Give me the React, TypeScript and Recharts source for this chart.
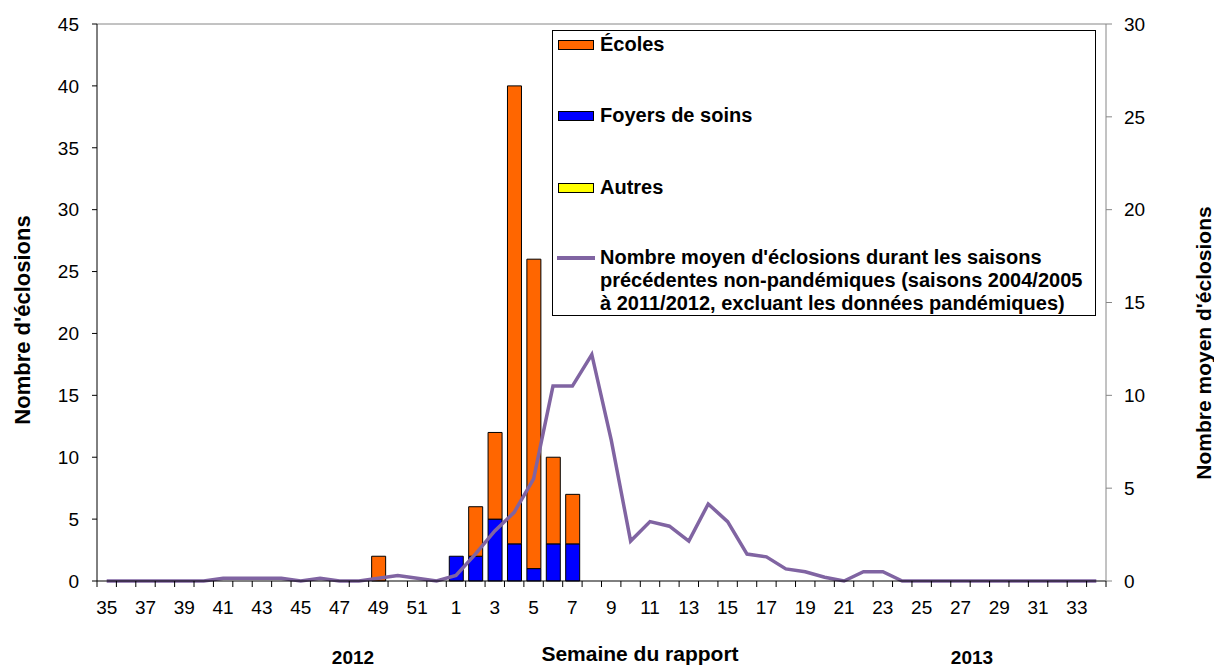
import { ComposedChart, Bar, Line, XAxis, YAxis, ReferenceLine } from 'recharts';

const FONT = 'Arial, "Liberation Sans", sans-serif';

// Semaine du rapport (2012 puis 2013)
const weeks = [
  '35', '36', '37', '38', '39', '40', '41', '42', '43', '44', '45', '46', '47', '48', '49', '50', '51', '52',
  '1', '2', '3', '4', '5', '6', '7', '8', '9', '10', '11', '12', '13', '14', '15', '16', '17',
  '18', '19', '20', '21', '22', '23', '24', '25', '26', '27', '28', '29', '30', '31', '32', '33', '34',
];

const ecoles = [
  0, 0, 0, 0, 0, 0, 0, 0, 0, 0, 0, 0, 0, 0, 2, 0, 0, 0,
  0, 4, 7, 37, 25, 7, 4, 0, 0, 0, 0, 0, 0, 0, 0, 0, 0,
  0, 0, 0, 0, 0, 0, 0, 0, 0, 0, 0, 0, 0, 0, 0, 0, 0,
];

const foyers = [
  0, 0, 0, 0, 0, 0, 0, 0, 0, 0, 0, 0, 0, 0, 0, 0, 0, 0,
  2, 2, 5, 3, 1, 3, 3, 0, 0, 0, 0, 0, 0, 0, 0, 0, 0,
  0, 0, 0, 0, 0, 0, 0, 0, 0, 0, 0, 0, 0, 0, 0, 0, 0,
];

const autres = [
  0, 0, 0, 0, 0, 0, 0, 0, 0, 0, 0, 0, 0, 0, 0, 0, 0, 0,
  0, 0, 0, 0, 0, 0, 0, 0, 0, 0, 0, 0, 0, 0, 0, 0, 0,
  0, 0, 0, 0, 0, 0, 0, 0, 0, 0, 0, 0, 0, 0, 0, 0, 0,
];

// moyenne des saisons non-pandémiques (axe de droite)
const moyenne = [
  0, 0, 0, 0, 0, 0, 0.15, 0.15, 0.15, 0.15, 0, 0.15, 0, 0, 0.15, 0.3, 0.15, 0,
  0.3, 1.45, 2.7, 3.7, 5.5, 10.5, 10.5, 12.2, 7.6, 2.15, 3.2, 2.95, 2.15, 4.15, 3.2, 1.45, 1.3,
  0.65, 0.5, 0.2, 0, 0.5, 0.5, 0, 0, 0, 0, 0, 0, 0, 0, 0, 0, 0,
];

const leftTicks = [0, 5, 10, 15, 20, 25, 30, 35, 40, 45];
const rightTicks = [0, 5, 10, 15, 20, 25, 30];

const data = weeks.map((w, i) => ({
  week: w,
  ecoles: ecoles[i],
  foyers: foyers[i],
  autres: autres[i],
  moyenne: moyenne[i],
}));

const W = 1214;
const H = 669;
const LEFT_W = 97;
const RIGHT_W = 108;
const BAND = (W - LEFT_W - RIGHT_W) / weeks.length;

const WeekTick = (props: any) => {
  const { x, y, payload } = props;
  const i = payload.index;
  const axisY = y - 8;
  return (
    <g>
      <line x1={x - BAND / 2} x2={x - BAND / 2} y1={axisY} y2={axisY + 6} stroke="#000" />
      {i === weeks.length - 1 && (
        <line x1={x + BAND / 2} x2={x + BAND / 2} y1={axisY} y2={axisY + 6} stroke="#000" />
      )}
      {i % 2 === 0 && (
        <text x={x} y={axisY + 33} textAnchor="middle" fontSize={19} fontFamily={FONT} fill="#000">
          {payload.value}
        </text>
      )}
    </g>
  );
};

const swatch = (bg: string) => ({
  position: 'absolute' as const,
  left: 5,
  width: 36,
  height: 10,
  background: bg,
  border: '1.5px solid #000',
  boxSizing: 'border-box' as const,
});

const textStyle = {
  position: 'absolute' as const,
  left: 47,
  fontSize: 20,
  fontWeight: 700,
  lineHeight: '23px',
  color: '#000',
  whiteSpace: 'nowrap' as const,
};

// légende dessinée par-dessus le graphique, comme dans l'original
const LegendBox = () => (
  <div
    style={{
      position: 'absolute',
      left: 552,
      top: 30,
      width: 544,
      height: 286,
      border: '1px solid #000',
      boxSizing: 'border-box',
      background: '#fff',
      fontFamily: FONT,
    }}
  >
    <div style={{ ...swatch('#FF6600'), top: 9 }} />
    <div style={{ ...textStyle, top: 2 }}>Écoles</div>
    <div style={{ ...swatch('#0000FF'), top: 80 }} />
    <div style={{ ...textStyle, top: 73 }}>Foyers de soins</div>
    <div style={{ ...swatch('#FFFF00'), top: 152 }} />
    <div style={{ ...textStyle, top: 145 }}>Autres</div>
    <div style={{ position: 'absolute', left: 4, top: 225, width: 38, height: 4, background: '#8064A2' }} />
    <div style={{ ...textStyle, top: 215 }}>
      Nombre moyen d'éclosions durant les saisons
      <br />
      précédentes non-pandémiques (saisons 2004/2005
      <br />à 2011/2012, excluant les données pandémiques)
    </div>
  </div>
);

const XTitle = () => (
  <g fontFamily={FONT} fontWeight={700} fill="#000">
    <text x={640} y={661} textAnchor="middle" fontSize={21}>Semaine du rapport</text>
    <text x={353} y={664} textAnchor="middle" fontSize={19}>2012</text>
    <text x={972} y={664} textAnchor="middle" fontSize={19}>2013</text>
  </g>
);

const LeftTitle = () => (
  <text
    x={22}
    y={320}
    transform="rotate(-90 22 320)"
    textAnchor="middle"
    dominantBaseline="central"
    fontFamily={FONT}
    fontWeight={700}
    fontSize={22}
    fill="#000"
  >
    Nombre d'éclosions
  </text>
);

const RightTitle = () => (
  <text
    x={1203}
    y={343}
    transform="rotate(-90 1203 343)"
    textAnchor="middle"
    dominantBaseline="central"
    fontFamily={FONT}
    fontWeight={700}
    fontSize={21}
    fill="#000"
  >
    Nombre moyen d'éclosions
  </text>
);

export default function App() {
  return (
    <div style={{ position: 'absolute', left: 0, top: 0, width: W, height: H, background: '#fff' }}>
      <ComposedChart
        width={W}
        height={H}
        data={data}
        margin={{ top: 24, right: 0, bottom: 0, left: 0 }}
        barSize={14}
        style={{ fontFamily: FONT }}
      >
        <XAxis
          dataKey="week"
          interval={0}
          height={88}
          tickLine={false}
          axisLine={{ stroke: '#000' }}
          tick={<WeekTick />}
          label={{ content: () => <XTitle /> }}
        />
        <YAxis
          yAxisId="left"
          width={LEFT_W}
          domain={[0, 45]}
          ticks={leftTicks}
          interval={0}
          tickSize={5}
          tickMargin={13}
          axisLine={{ stroke: '#000' }}
          tickLine={{ stroke: '#000' }}
          tick={{ fill: '#000', fontSize: 19, fontFamily: FONT }}
          label={{ content: () => <LeftTitle /> }}
        />
        <YAxis
          yAxisId="right"
          orientation="right"
          width={RIGHT_W}
          domain={[0, 30]}
          ticks={rightTicks}
          interval={0}
          tickSize={6}
          tickMargin={12}
          axisLine={{ stroke: '#868686' }}
          tickLine={{ stroke: '#868686' }}
          tick={{ fill: '#000', fontSize: 19, fontFamily: FONT, textAnchor: 'start' }}
          label={{ content: () => <RightTitle /> }}
        />
        <ReferenceLine yAxisId="left" y={45} stroke="#868686" />
        <Bar yAxisId="left" dataKey="foyers" stackId="a" name="Foyers de soins" fill="#0000FF" stroke="#000" strokeWidth={1} isAnimationActive={false} />
        <Bar yAxisId="left" dataKey="ecoles" stackId="a" name="Écoles" fill="#FF6600" stroke="#000" strokeWidth={1} isAnimationActive={false} />
        <Bar yAxisId="left" dataKey="autres" stackId="a" name="Autres" fill="#FFFF00" stroke="#000" strokeWidth={1} isAnimationActive={false} />
        <Line
          yAxisId="right"
          type="linear"
          dataKey="moyenne"
          stroke="#8064A2"
          strokeWidth={3.5}
          dot={false}
          isAnimationActive={false}
        />
      </ComposedChart>
      <LegendBox />
    </div>
  );
}
